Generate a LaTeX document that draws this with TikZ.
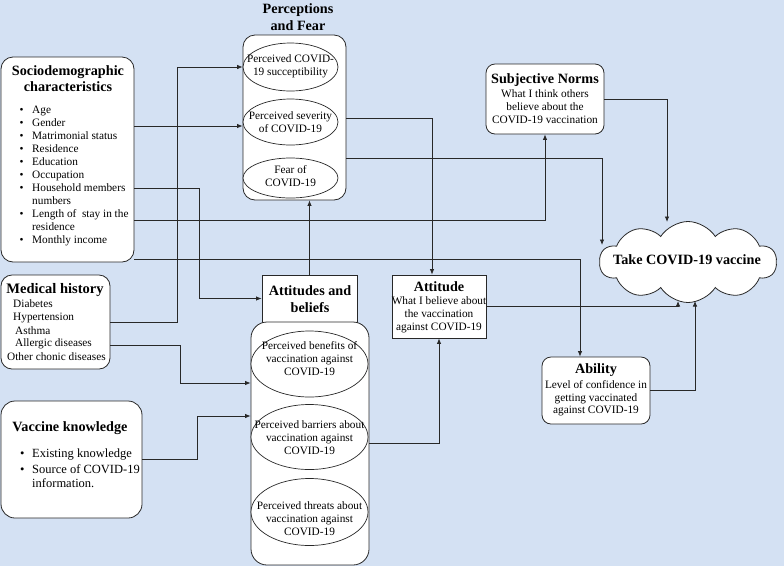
\documentclass[tikz,border=0pt]{standalone}
\usepackage{fontspec}
\setmainfont{Liberation Serif}
\usetikzlibrary{shapes.geometric,shapes.symbols,arrows.meta}
\definecolor{bg}{RGB}{212,225,243}
\definecolor{ln}{RGB}{40,40,40}
\begin{document}
\begin{tikzpicture}[x=1pt,y=-1pt,
  rbox/.style={draw=ln, fill=white, line width=0.8pt, rounded corners=#1, inner sep=0pt},
  rbox/.default=10pt,
  sbox/.style={draw=ln, fill=white, line width=0.8pt, inner sep=0pt},
  ell/.style={draw=ln, fill=white, line width=0.7pt, ellipse, inner sep=0pt},
  arr/.style={draw=ln, line width=0.8pt, -{Latex[length=5.5pt,width=4.5pt]}},
  ttl/.style={font=\fontsize{14.2}{16.5}\selectfont\bfseries, align=center, inner sep=0pt},
  bod/.style={font=\fontsize{11.3}{13}\selectfont, align=center, inner sep=0pt},
  itm/.style={font=\fontsize{11.3}{13}\selectfont, anchor=base west, inner sep=0pt},
  itmb/.style={font=\fontsize{12.5}{15}\selectfont, anchor=base west, inner sep=0pt},
]
\fill[bg] (0,0) rectangle (784,566);
\useasboundingbox (0,0) rectangle (784,566);

% ---------- boxes ----------
\node[rbox=12pt, minimum width=133pt, minimum height=205pt] (socio) at (67.5,159.5) {};
\node[rbox=11pt, minimum width=109pt, minimum height=94pt] (med) at (55.5,322) {};
\node[rbox=14pt, minimum width=141pt, minimum height=117pt] (vk) at (71.5,459.5) {};
\node[rbox=12pt, minimum width=103pt, minimum height=165pt] (pf) at (294.5,117.5) {};
\node[ell, minimum width=95pt, minimum height=48pt] (sus) at (290.5,67) {};
\node[ell, minimum width=95pt, minimum height=46pt] (sev) at (290.5,122) {};
\node[ell, minimum width=95pt, minimum height=40pt] (fear) at (290.5,178) {};
\node[sbox, minimum width=95pt, minimum height=47pt] (ab) at (309.5,298.5) {};
\node[rbox=16pt, minimum width=118pt, minimum height=243pt] (abc) at (310,443.5) {};
\node[ell, minimum width=117pt, minimum height=66pt] (ben) at (309.5,364) {};
\node[ell, minimum width=117pt, minimum height=65pt] (bar) at (309.5,437) {};
\node[ell, minimum width=117pt, minimum height=67pt] (thr) at (309.5,512) {};
\node[sbox, minimum width=94pt, minimum height=63pt] (att) at (439,306.5) {};
\node[rbox=9pt, minimum width=118pt, minimum height=70pt] (sn) at (545,99) {};
\node[rbox=9pt, minimum width=108pt, minimum height=67pt] (abil) at (596,390.5) {};
\node[cloud, cloud puffs=10, cloud puff arc=115, draw=ln, fill=white, line width=0.8pt,
      minimum width=177pt, minimum height=81pt, inner sep=0pt] (take) at (688,262) {};

% ---------- texts ----------
\node[ttl] (tsocio) at (68,78.5) {Sociodemographic\\characteristics};
\foreach \t/\y [count=\i] in {Age/113.5, Gender/126, Matrimonial status/139, Residence/152,
   Education/165, Occupation/178, Household members/191, numbers/204,
   Length of\ \ stay in the/217, residence/230, Monthly income/243}
  \node[itm] (si\i) at (32,\y) {\t};
\foreach \y [count=\i] in {113.5,126,139,152,165,178,191,217,243}
  \node[itm] (sb\i) at (19.5,\y) {\textbullet};

\node[ttl, font=\fontsize{14.5}{16}\selectfont\bfseries] (tmed) at (55,290) {Medical history};
\node[itm] (m1) at (13,307.5) {Diabetes};
\node[itm] (m2) at (13,320.5) {Hypertension};
\node[itm] (m3) at (15,334) {Asthma};
\node[itm] (m4) at (15,346.5) {Allergic diseases};
\node[itm] (m5) at (7,360) {Other chonic diseases};

\node[ttl] (tvk) at (70,428) {Vaccine knowledge};
\node[itmb] (v1) at (32,457.5) {Existing knowledge};
\node[itmb] (v2) at (32,473) {Source of COVID-19};
\node[itmb] (v3) at (32,487.5) {information.};
\node[itmb] (vb1) at (20,457.5) {\textbullet};
\node[itmb] (vb2) at (20,473) {\textbullet};

\node[ttl] (tpf) at (298,17) {Perceptions\\and Fear};
\node[bod] (tsus) at (290.5,66.5) {Perceived COVID-\\19 succeptibility};
\node[bod] (tsev) at (290.5,122) {Perceived severity\\of COVID-19};
\node[bod] (tfear) at (290.5,176.5) {Fear of\\COVID-19};

\node[ttl] (tab) at (310,299) {Attitudes and\\beliefs};
\node[bod] (tben) at (309.5,359) {Perceived benefits of\\vaccination against\\COVID-19};
\node[bod] (tbar) at (309.5,437.5) {Perceived barriers about\\vaccination against\\COVID-19};
\node[bod] (tthr) at (309.5,518.5) {Perceived threats about\\vaccination against\\COVID-19};

\node[ttl] (tatt) at (439,287) {Attitude};
\node[bod] (batt) at (439,315) {What I believe about\\the vaccination\\against COVID-19};

\node[ttl] (tsn) at (545,80) {Subjective Norms};
\node[bod] (bsn) at (545,107) {What I think others\\believe about the\\COVID-19 vaccination};

\node[ttl] (tabil) at (596,370) {Ability};
\node[bod, font=\fontsize{11.3}{12.5}\selectfont] (babil) at (596,398.5) {Level of confidence in\\getting vaccinated\\against COVID-19};

\node[ttl] (ttake) at (687,260) {Take COVID-19 vaccine};

% ---------- helper coordinates ----------
\coordinate (y126) at (0,126);
\coordinate (y188) at (0,188);
\coordinate (y220) at (0,220);
\coordinate (y259) at (0,259);
\coordinate (y118) at (0,118);
\coordinate (y158) at (0,158);
\coordinate (y345) at (0,345);
\coordinate (y383) at (0,383);
\coordinate (y416) at (0,416);
\coordinate (y443) at (0,443);
\coordinate (t1) at (602,245);
\coordinate (t2) at (667,222);
\coordinate (t3) at (678,301);
\coordinate (t4) at (695,301);

% ---------- connectors ----------
\draw[arr] (med.east) -- (177,322) |- (sus.west);
\draw[arr] (socio.east |- y126) -- (pf.west |- y126);
\draw[arr] (socio.east |- y188) -- (199,188) |- (ab.west);
\draw[arr] (socio.east |- y220) -| (sn.south);
\draw[arr] (socio.east |- y259) -| ([xshift=-16pt]abil.north);
\draw[arr] (pf.east |- y118) -| ([xshift=-7pt]att.north);
\draw[arr] (pf.east |- y158) -| (t1);
\draw[arr] (sn.east) -| (t2);
\draw[arr] (att.east) -| (t3);
\draw[arr] (abil.east) -| (t4);
\draw[arr] (ab.north) -- (ab.north |- pf.south);
\draw[arr] (med.east |- y345) -- (180,345) |- (abc.west |- y383);
\draw[arr] (vk.east) -- (197,459.5) |- (abc.west |- y416);
\draw[arr] (abc.east |- y443) -| (att.south);
\end{tikzpicture}
\end{document}
